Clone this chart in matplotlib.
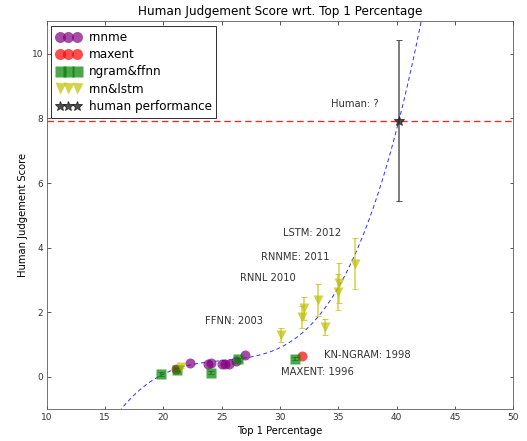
import numpy as np
import matplotlib
matplotlib.use("Agg")
import matplotlib.pyplot as plt

# values
rnnme_x = [22.3, 23.85, 24.1, 25.0, 25.3, 25.6, 26.2, 27.0]
rnnme_y = [0.43, 0.41, 0.43, 0.41, 0.39, 0.41, 0.48, 0.69]

maxent_x = [21.1, 31.9]
maxent_y = [0.26, 0.64]

ngram_x = [19.8, 21.2, 24.1, 26.4, 31.3]
ngram_y = [0.09, 0.23, 0.13, 0.55, 0.57]
ngram_err = [0.05, 0.05, 0.05, 0.05, 0.05]

rnn_x = [21.5, 30.1, 31.9, 32.05, 33.3, 33.9, 35.0, 35.1, 36.4]
rnn_y = [0.32, 1.31, 1.86, 2.12, 2.38, 1.54, 2.63, 2.92, 3.51]
rnn_err = [0.05, 0.22, 0.35, 0.36, 0.5, 0.25, 0.57, 0.62, 0.8]

human_x = [40.2]
human_y = [7.93]
human_err = [2.5]

# dashed trend line
curve_x = [16.4, 17.85, 19.1, 20.6, 23.1, 27.4, 30.0, 31.3, 33.4, 35.7, 37.0, 40.2, 42.1]
curve_y = [-0.98, -0.47, -0.08, 0.2, 0.41, 0.62, 0.93, 1.15, 1.91, 3.3, 4.23, 7.94, 11.0]

labels = ["LSTM: 2012", "RNNME: 2011", "RNNL 2010", "FFNN: 2003",
          "KN-NGRAM: 1998", "MAXENT: 1996", "Human: ?"]
label_x = [30.3, 28.4, 26.6, 23.6, 33.8, 30.1, 34.4]
label_y = [4.44, 3.70, 3.05, 1.74, 0.67, 0.14, 8.44]

fig = plt.figure(figsize=(527 / 72, 441 / 72), dpi=72)
ax = fig.add_axes([0.0886, 0.0719, 0.8854, 0.8796])

# red dashed line at the human score
ax.plot([10, 50], [human_y[0], human_y[0]], color="#ff2020", linestyle=(0, (5, 3)),
        lw=1.3, zorder=1)

coef = np.polyfit(curve_x, curve_y, 5)
xs = np.linspace(15.5, 43, 300)
ax.plot(xs, np.polyval(coef, xs), color="blue", linestyle=(0, (4, 3)), lw=1, alpha=0.8)

ms = 10
# error bars first, then markers (so the legend shows plain markers)
ax.errorbar(ngram_x, ngram_y, yerr=ngram_err, fmt="none", ecolor="green", alpha=0.7, capsize=3)
ax.errorbar(rnn_x, rnn_y, yerr=rnn_err, fmt="none", ecolor="y", alpha=0.7, capsize=3)
ax.errorbar(human_x, human_y, yerr=human_err, fmt="none", ecolor="#555555", capsize=3)

ax.plot(rnnme_x, rnnme_y, "o", color="purple", alpha=0.7, ms=ms, mec="none", label="rnnme")
ax.plot(maxent_x, maxent_y, "o", color="red", alpha=0.7, ms=ms, mec="none", label="maxent")
ax.plot(ngram_x, ngram_y, "s", color="green", alpha=0.7, ms=ms, mec="none", label="ngram&ffnn")
ax.plot(rnn_x, rnn_y, "v", color="y", alpha=0.7, ms=ms, mec="none", label="rnn&lstm")
ax.plot(human_x, human_y, "*", color="#222222", alpha=0.8, ms=ms, label="human performance")

for t, x, y in zip(labels, label_x, label_y):
    ax.text(x, y, t, fontsize=10, color="#333333", va="center")

ax.set_xlim(10, 50)
ax.set_ylim(-1, 11)
ax.set_xticks(range(10, 51, 5))
ax.set_yticks(range(0, 11, 2))
ax.tick_params(direction="in", top=True, right=True, labelsize=9, colors="#333333")
for s in ax.spines.values():
    s.set_color("#555555")

ax.set_title("Human Judgement Score wrt. Top 1 Percentage", fontsize=12)
ax.set_xlabel("Top 1 Percentage", fontsize=10)
ax.set_ylabel("Human Judgement Score", fontsize=10)

leg = ax.legend(loc="upper left", numpoints=3, fontsize=12, markerscale=1.1,
                fancybox=False, framealpha=1, edgecolor="#333333",
                borderaxespad=0.4, handletextpad=0.7, labelspacing=0.35)
leg.get_frame().set_linewidth(1)

fig.savefig("out.png", dpi=72)
